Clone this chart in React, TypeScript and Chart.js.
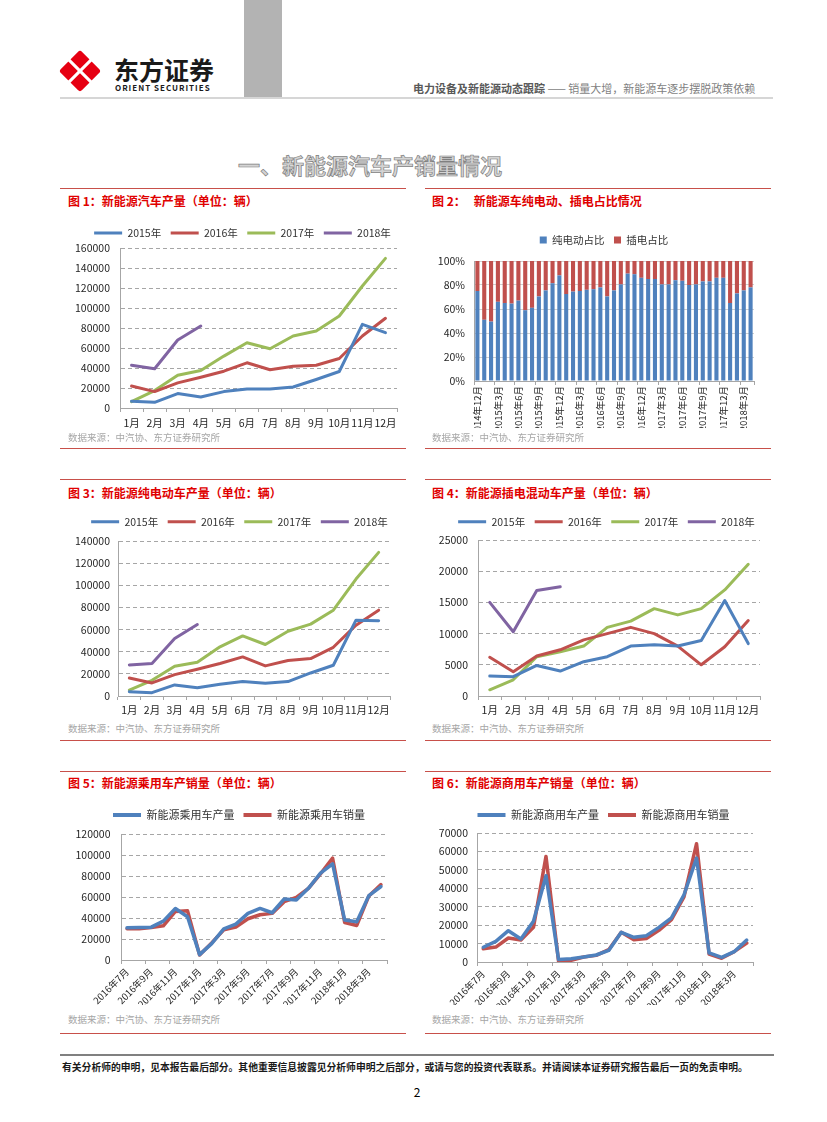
import React, { useEffect, useRef } from 'react';
import { Chart, registerables } from 'chart.js';

Chart.register(...registerables);

const FONT = "'Noto Sans CJK SC', 'Noto Sans', sans-serif";
const C_BLUE = '#4F81BD';
const C_RED = '#C0504D';
const C_GREEN = '#9BBB59';
const C_PURPLE = '#8064A2';
const GRID = '#A6A6A6';
const TICK = '#262626';

// ---------- data ----------
const MONTHS = ['1月', '2月', '3月', '4月', '5月', '6月', '7月', '8月', '9月', '10月', '11月', '12月'];
const YEAR_LABELS = ['2015年', '2016年', '2017年', '2018年'];

// 图1 新能源汽车产量
const TOTAL_2015 = [6700, 5700, 14400, 11000, 16400, 19000, 19000, 21000, 28500, 36500, 83700, 75300];
const TOTAL_2016 = [22000, 16400, 25100, 30800, 36800, 45200, 38200, 41800, 42800, 49500, 72000, 89700];
const TOTAL_2017 = [6400, 17400, 32800, 37500, 51900, 65200, 59200, 72000, 77000, 92000, 122000, 149600];
const TOTAL_2018 = [42800, 39200, 68000, 82000];

// 图3 纯电动车产量
const BEV_2015 = [3900, 3000, 10000, 7500, 10600, 13000, 11500, 13000, 20800, 27800, 68500, 67900];
const BEV_2016 = [16300, 11800, 19300, 24100, 29300, 35300, 27200, 32000, 33800, 44000, 64000, 77500];
const BEV_2017 = [5400, 14200, 26900, 30500, 44400, 54300, 46500, 58500, 64900, 77500, 105600, 129700];
const BEV_2018 = [28000, 29300, 51900, 64600];

// 图4 插电混动车产量
const PHEV_2015 = [3200, 3100, 4900, 4000, 5500, 6300, 8000, 8200, 8000, 8900, 15300, 8400];
const PHEV_2016 = [6200, 3900, 6400, 7400, 9000, 10000, 11000, 10000, 8000, 5000, 7900, 12100];
const PHEV_2017 = [1000, 2600, 6300, 7100, 8000, 11000, 12000, 14000, 13000, 14000, 17000, 21100];
const PHEV_2018 = [15000, 10300, 16900, 17500];

// 图2 纯电动/插电占比
const SHARE_MONTHS = [
  '2014年12月',
  '2015年1月', '2015年2月', '2015年3月', '2015年4月', '2015年5月', '2015年6月',
  '2015年7月', '2015年8月', '2015年9月', '2015年10月', '2015年11月', '2015年12月',
  '2016年1月', '2016年2月', '2016年3月', '2016年4月', '2016年5月', '2016年6月',
  '2016年7月', '2016年8月', '2016年9月', '2016年10月', '2016年11月', '2016年12月',
  '2017年1月', '2017年2月', '2017年3月', '2017年4月', '2017年5月', '2017年6月',
  '2017年7月', '2017年8月', '2017年9月', '2017年10月', '2017年11月', '2017年12月',
  '2018年1月', '2018年2月', '2018年3月', '2018年4月',
];
const BEV_SHARE = [75, 51, 49.5, 66, 65, 64.5, 67, 59, 61, 70.5, 75.5, 81.5, 88, 72.5, 74.5, 75, 76, 76.5, 78, 70.5,
  75.5, 80.5, 89.5, 89, 86, 85, 85, 80.5, 80.5, 84, 83.5, 80, 80.5, 83, 83, 86, 86, 65, 73, 75.5, 78];
const PHEV_SHARE = [25, 49, 50.5, 34, 35, 35.5, 33, 41, 39, 29.5, 24.5, 18.5, 12, 27.5, 25.5, 25, 24, 23.5, 22, 29.5,
  24.5, 19.5, 10.5, 11, 14, 15, 15, 19.5, 19.5, 16, 16.5, 20, 19.5, 17, 17, 14, 14, 35, 27, 24.5, 22];

// 图5/图6
const PS_MONTHS = [
  '2016年7月', '2016年8月', '2016年9月', '2016年10月', '2016年11月', '2016年12月',
  '2017年1月', '2017年2月', '2017年3月', '2017年4月', '2017年5月', '2017年6月',
  '2017年7月', '2017年8月', '2017年9月', '2017年10月', '2017年11月', '2017年12月',
  '2018年1月', '2018年2月', '2018年3月', '2018年4月',
];
const PASS_PROD = [30600, 31000, 31300, 37000, 49100, 41200, 5100, 15600, 29700, 34200, 44400, 49100, 45000, 58100, 57100,
  68300, 82700, 91600, 38000, 36400, 61300, 69900];
const PASS_SALES = [29700, 29700, 31000, 32600, 46300, 46900, 4800, 16300, 28700, 31300, 39300, 43100, 44400, 55500, 59700,
  68300, 82000, 97000, 35700, 32900, 61000, 71800];
const COMM_PROD = [8000, 11200, 17000, 12500, 22100, 46800, 1300, 1800, 2700, 3800, 6300, 16100, 13400, 14300, 18800, 24000,
  36500, 56400, 4900, 2500, 5600, 11900];
const COMM_SALES = [7200, 8100, 13000, 11900, 18800, 57300, 500, 900, 2700, 3600, 6700, 16100, 12100, 12800, 17200, 23000,
  35300, 64200, 4300, 2000, 5600, 10300];

// ---------- helpers ----------
const legendPos = {
  id: 'legendPos',
  afterLayout(chart: any, _args: any, opts: any) {
    const l = chart.legend;
    if (!l || opts == null || opts.cx == null) return;
    const dx = opts.cx - (l.left + l.right) / 2;
    l.left += dx;
    l.right += dx;
    const dy = opts.cy - (l.top + opts.p + opts.f / 2);
    l.top += dy;
    l.bottom += dy;
  },
};

function xScale(s: any) {
  return {
    type: 'category',
    offset: true,
    stacked: !!s.stacked,
    afterFit: (sc: any) => { sc.height = s.xH; },
    grid: {
      display: true,
      drawOnChartArea: false,
      drawTicks: true,
      tickLength: 4,
      offset: true,
      color: GRID,
      tickColor: (ctx: any) => (ctx.index === undefined || ctx.index % s.every === 0 ? GRID : 'rgba(0,0,0,0)'),
    },
    border: { display: true, color: GRID, width: 1 },
    ticks: {
      autoSkip: false,
      maxRotation: s.rotation,
      minRotation: s.rotation,
      padding: s.xPad,
      color: TICK,
      font: { family: FONT, size: s.xFont },
      callback: function (this: any, v: any, i: number) {
        return i % s.every === 0 ? this.getLabelForValue(v) : '';
      },
    },
  };
}

function lineConfig(s: any) {
  return {
    type: 'line',
    data: {
      labels: s.labels,
      datasets: s.series.map((d: any) => ({
        label: d.label,
        data: d.data,
        borderColor: d.color,
        backgroundColor: d.color,
        borderWidth: s.lineWidth,
        pointRadius: 0,
        pointHoverRadius: 0,
        tension: 0,
        fill: false,
        borderJoinStyle: 'round',
        borderCapStyle: 'round',
      })),
    },
    options: {
      responsive: false,
      animation: false,
      devicePixelRatio: 1,
      events: [],
      layout: { padding: { top: 0, left: 0, right: s.padR, bottom: 0 } },
      plugins: {
        legend: {
          display: true,
          position: 'top',
          labels: {
            font: { family: FONT, size: s.legendFont },
            color: '#333',
            boxWidth: 28,
            boxHeight: s.legendLine,
            padding: s.legendPad,
            generateLabels: (chart: any) =>
              chart.data.datasets.map((ds: any, i: number) => ({
                text: ds.label,
                fillStyle: ds.borderColor,
                strokeStyle: ds.borderColor,
                lineWidth: 0,
                hidden: false,
                datasetIndex: i,
                fontColor: '#333',
              })),
          },
        },
        tooltip: { enabled: false },
        legendPos: { cx: s.legendCx, cy: s.legendCy, p: s.legendPad, f: s.legendFont },
      },
      scales: {
        x: xScale(s),
        y: {
          min: 0,
          max: s.yMax,
          afterFit: (sc: any) => { sc.width = s.yW; },
          ticks: {
            stepSize: s.yStep,
            padding: s.yPad,
            color: TICK,
            font: { family: FONT, size: 10.5 },
            callback: (v: any) => String(v),
          },
          grid: { color: GRID, drawTicks: false, lineWidth: 1 },
          border: { display: true, color: GRID, dash: [4, 3] },
        },
      },
    },
    plugins: [legendPos],
  };
}

function shareConfig() {
  const s = {
    stacked: true, xH: 47, every: 3, rotation: 90, xPad: 1, xFont: 9.5,
  };
  return {
    type: 'bar',
    data: {
      labels: SHARE_MONTHS,
      datasets: [
        { label: '纯电动占比', data: BEV_SHARE, backgroundColor: C_BLUE, borderWidth: 0, barPercentage: 0.6, categoryPercentage: 1 },
        { label: '插电占比', data: PHEV_SHARE, backgroundColor: C_RED, borderWidth: 0, barPercentage: 0.6, categoryPercentage: 1 },
      ],
    },
    options: {
      responsive: false,
      animation: false,
      devicePixelRatio: 1,
      events: [],
      layout: { padding: { top: 0, left: 0, right: 26, bottom: 0 } },
      plugins: {
        legend: {
          display: true,
          position: 'top',
          labels: {
            font: { family: FONT, size: 10.5 },
            color: '#333',
            boxWidth: 7,
            boxHeight: 7,
            padding: 9.5,
          },
        },
        tooltip: { enabled: false },
        legendPos: { cx: 180, cy: 9, p: 9.5, f: 10.5 },
      },
      scales: {
        x: xScale(s),
        y: {
          stacked: true,
          min: 0,
          max: 100,
          afterFit: (sc: any) => { sc.width = 50; },
          ticks: {
            stepSize: 10,
            padding: 9,
            color: TICK,
            font: { family: FONT, size: 10.5 },
            callback: (v: any) => v + '%',
          },
          grid: { color: '#D0D0D0', drawTicks: false, lineWidth: 1 },
          border: { display: true, color: GRID },
        },
      },
    },
    plugins: [legendPos],
  };
}

function ChartBox(props: { left: number; top: number; width: number; height: number; make: () => any }) {
  const ref = useRef<HTMLCanvasElement>(null);
  useEffect(() => {
    const chart = new Chart(ref.current as HTMLCanvasElement, props.make());
    return () => chart.destroy();
  }, []);
  return (
    <canvas
      ref={ref}
      width={props.width}
      height={props.height}
      style={{ position: 'absolute', left: props.left, top: props.top, width: props.width, height: props.height }}
    />
  );
}

function Txt(props: any) {
  const { x, y, size, color = '#000', weight = 400, children, style = {} } = props;
  return (
    <div
      style={{
        position: 'absolute',
        left: x,
        top: y - size * 0.6,
        fontSize: size,
        lineHeight: `${size * 1.2}px`,
        color,
        fontWeight: weight,
        whiteSpace: 'nowrap',
        fontFamily: FONT,
        ...style,
      }}
    >
      {children}
    </div>
  );
}

function HLine(props: { x1: number; x2: number; y: number; color: string; h?: number }) {
  const h = props.h || 1;
  return (
    <div style={{ position: 'absolute', left: props.x1, top: props.y - h / 2, width: props.x2 - props.x1, height: h, background: props.color }} />
  );
}

const RED_LINE = '#C8504A';
const TITLE_RED = '#E00000';
const SOURCE = '数据来源：中汽协、东方证券研究所';

export default function App() {
  const yearSeries = (a: number[], b: number[], c: number[], d: number[]) => [
    { label: YEAR_LABELS[0], data: a, color: C_BLUE },
    { label: YEAR_LABELS[1], data: b, color: C_RED },
    { label: YEAR_LABELS[2], data: c, color: C_GREEN },
    { label: YEAR_LABELS[3], data: d, color: C_PURPLE },
  ];
  const monthCommon = { labels: MONTHS, every: 1, rotation: 0, xFont: 10.5, xH: 24, lineWidth: 3, legendFont: 10.5, legendPad: 9.5, legendLine: 3 };
  const psCommon = { labels: PS_MONTHS, every: 2, rotation: 45, xFont: 9.5, xPad: 2, lineWidth: 3.5, legendFont: 11, legendPad: 9, legendLine: 4 };

  return (
    <div style={{ position: 'absolute', left: 0, top: 0, width: 827, height: 1122, overflow: 'hidden', background: '#fff', fontFamily: FONT }}>
      {/* header */}
      <svg style={{ position: 'absolute', left: 58, top: 49 }} width={44} height={44} viewBox="0 0 44 44">
        <g transform="rotate(45 22 22)">
          <rect x="7" y="7" width="30" height="30" rx="3" fill="#E60012" />
          <rect x="20.5" y="2" width="3" height="40" fill="#fff" />
          <rect x="2" y="20.5" width="40" height="3" fill="#fff" />
        </g>
      </svg>
      <Txt x={114} y={69} size={25} weight={700} color="#1a1a1a">东方证券</Txt>
      <Txt x={115} y={87.5} size={8} weight={700} color="#1a1a1a" style={{ letterSpacing: 1 }}>ORIENT SECURITIES</Txt>
      <div style={{ position: 'absolute', left: 244, top: 0, width: 38, height: 97, background: '#B3B3B3' }} />
      <HLine x1={60} x2={773} y={98} color="#D6D6D6" h={2} />
      <Txt x={413} y={89} size={11} color="#7F7F7F">
        <span style={{ fontWeight: 700, color: '#595959' }}>电力设备及新能源动态跟踪</span>
        <span> —— 销量大增，新能源车逐步摆脱政策依赖</span>
      </Txt>

      <Txt x={238} y={164} size={22} weight={700} color="#D4D4D4" style={{ WebkitTextStroke: '0.7px #7F7F7F' }}>
        一、新能源汽车产销量情况
      </Txt>

      {/* row 1 */}
      <HLine x1={60} x2={406} y={188} color={RED_LINE} />
      <HLine x1={425} x2={771} y={188} color={RED_LINE} />
      <Txt x={68} y={201} size={12} weight={700} color={TITLE_RED}>图 1：新能源汽车产量（单位：辆）</Txt>
      <Txt x={432} y={201} size={12} weight={700} color={TITLE_RED}>图 2：<span style={{ marginLeft: 8 }}>新能源车纯电动、插电占比情况</span></Txt>
      <ChartBox left={62} top={218} width={354} height={214} make={() => lineConfig({
        ...monthCommon, series: yearSeries(TOTAL_2015, TOTAL_2016, TOTAL_2017, TOTAL_2018),
        yMax: 160000, yStep: 20000, yW: 58, padR: 19, yPad: 10, xPad: 5, legendCx: 180.5, legendCy: 15,
      })} />
      <ChartBox left={424} top={231} width={356} height={197} make={shareConfig} />
      <Txt x={68} y={438} size={9.5} color="#A6A6A6">{SOURCE}</Txt>
      <Txt x={432} y={438} size={9.5} color="#A6A6A6">{SOURCE}</Txt>
      <HLine x1={60} x2={406} y={448} color={RED_LINE} />
      <HLine x1={425} x2={771} y={448} color={RED_LINE} />

      {/* row 2 */}
      <HLine x1={60} x2={406} y={479} color={RED_LINE} />
      <HLine x1={425} x2={771} y={479} color={RED_LINE} />
      <Txt x={68} y={493} size={12} weight={700} color={TITLE_RED}>图 3：新能源纯电动车产量（单位：辆）</Txt>
      <Txt x={432} y={493} size={12} weight={700} color={TITLE_RED}>图 4：新能源插电混动车产量（单位：辆）</Txt>
      <ChartBox left={62} top={511} width={354} height={209} make={() => lineConfig({
        ...monthCommon, series: yearSeries(BEV_2015, BEV_2016, BEV_2017, BEV_2018),
        yMax: 140000, yStep: 20000, yW: 56, padR: 26, yPad: 8, xPad: 4, legendCx: 177.5, legendCy: 10.7,
      })} />
      <ChartBox left={424} top={510} width={356} height={210} make={() => lineConfig({
        ...monthCommon, series: yearSeries(PHEV_2015, PHEV_2016, PHEV_2017, PHEV_2018),
        yMax: 25000, yStep: 5000, yW: 54, padR: 20, yPad: 10, xPad: 4, legendCx: 182.5, legendCy: 11.7,
      })} />
      <Txt x={68} y={729} size={9.5} color="#A6A6A6">{SOURCE}</Txt>
      <Txt x={432} y={729} size={9.5} color="#A6A6A6">{SOURCE}</Txt>
      <HLine x1={60} x2={406} y={740} color={RED_LINE} />
      <HLine x1={425} x2={771} y={740} color={RED_LINE} />

      {/* row 3 */}
      <HLine x1={60} x2={406} y={771} color={RED_LINE} />
      <HLine x1={425} x2={771} y={771} color={RED_LINE} />
      <Txt x={68} y={783} size={12} weight={700} color={TITLE_RED}>图 5：新能源乘用车产销量（单位：辆）</Txt>
      <Txt x={432} y={783} size={12} weight={700} color={TITLE_RED}>图 6：新能源商用车产销量（单位：辆）</Txt>
      <ChartBox left={62} top={804} width={354} height={201} make={() => lineConfig({
        ...psCommon,
        series: [
          { label: '新能源乘用车产量', data: PASS_PROD, color: C_BLUE },
          { label: '新能源乘用车销量', data: PASS_SALES, color: C_RED },
        ],
        xH: 45, yMax: 120000, yStep: 20000, yW: 59, padR: 29, yPad: 10.5, legendCx: 177, legendCy: 11,
      })} />
      <ChartBox left={424} top={803} width={356} height={202} make={() => lineConfig({
        ...psCommon,
        series: [
          { label: '新能源商用车产量', data: COMM_PROD, color: C_BLUE },
          { label: '新能源商用车销量', data: COMM_SALES, color: C_RED },
        ],
        xH: 43, yMax: 70000, yStep: 10000, yW: 53, padR: 27, yPad: 9, legendCx: 179.5, legendCy: 12,
      })} />
      <Txt x={68} y={1020} size={9.5} color="#A6A6A6">{SOURCE}</Txt>
      <Txt x={432} y={1020} size={9.5} color="#A6A6A6">{SOURCE}</Txt>
      <HLine x1={60} x2={406} y={1033} color={RED_LINE} />
      <HLine x1={425} x2={771} y={1033} color={RED_LINE} />

      {/* footer */}
      <HLine x1={60} x2={774} y={1055} color="#808080" h={2} />
      <Txt x={62} y={1068} size={9.8} weight={700} color="#1a1a1a">
        有关分析师的申明，见本报告最后部分。其他重要信息披露见分析师申明之后部分，或请与您的投资代表联系。并请阅读本证券研究报告最后一页的免责申明。
      </Txt>
      <div style={{ position: 'absolute', left: 0, width: 834, top: 1084, textAlign: 'center', fontSize: 12, lineHeight: '16px', fontFamily: FONT, color: '#000' }}>2</div>
    </div>
  );
}
